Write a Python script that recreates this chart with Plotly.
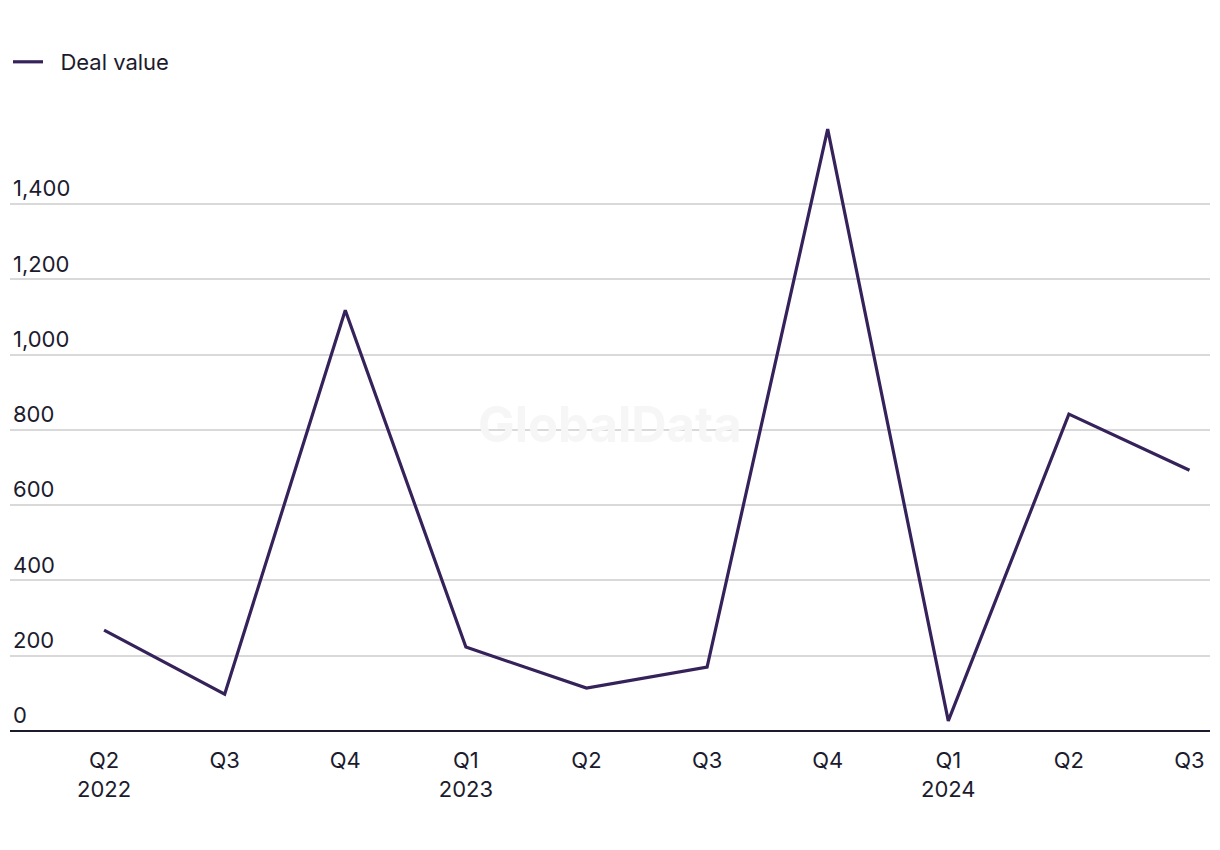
import plotly.graph_objects as go

quarters = ["Q2<br>2022", "Q3", "Q4", "Q1<br>2023", "Q2", "Q3", "Q4", "Q1<br>2024", "Q2", "Q3"]
deal_value = [268, 98, 1118, 223, 114, 170, 1599, 27, 842, 693]
y_ticks = [0, 200, 400, 600, 800, 1000, 1200, 1400]
y_tick_labels = ["0", "200", "400", "600", "800", "1,000", "1,200", "1,400"]

x_idx = list(range(len(quarters)))

FONT = "Inter, Liberation Sans, Arial, sans-serif"
TEXT = "#1c1b2e"
FS = 22

fig = go.Figure()
fig.add_trace(go.Scatter(
    x=x_idx, y=deal_value, mode="lines", name="\u00a0\u00a0Deal value",
    line=dict(color="#36225a", width=3.2),
))

fig.add_annotation(
    text="<b>GlobalData</b>", x=0.5, y=0.493, xref="paper", yref="paper",
    showarrow=False, font=dict(family=FONT, size=49, color="#f6f6f6"),
)

fig.update_layout(
    width=1220, height=850,
    margin=dict(l=2, r=18, t=102, b=127),
    plot_bgcolor="white", paper_bgcolor="white",
    font=dict(family=FONT, size=FS, color=TEXT),
    showlegend=True,
    legend=dict(
        x=0.0, y=1 - 33 / 850, xref="container", yref="container",
        xanchor="left", yanchor="top", orientation="h",
        font=dict(size=FS, color=TEXT),
        bgcolor="rgba(0,0,0,0)",
    ),
    xaxis=dict(
        tickmode="array", tickvals=x_idx, ticktext=quarters,
        range=[-0.78, 9.17], showgrid=False, zeroline=False,
        showline=False, ticks="", ticklabelstandoff=14,
        tickfont=dict(size=FS, color=TEXT),
    ),
    yaxis=dict(
        tickmode="array", tickvals=y_ticks, ticktext=y_tick_labels,
        range=[0, 1650], showgrid=True, gridcolor="#d9d9d9", gridwidth=1.5,
        zeroline=True, zerolinecolor="#1c1b2e", zerolinewidth=2,
        ticklabelposition="inside top", ticks="",
        tickfont=dict(size=FS, color=TEXT),
    ),
)

fig.write_html("out.html")
